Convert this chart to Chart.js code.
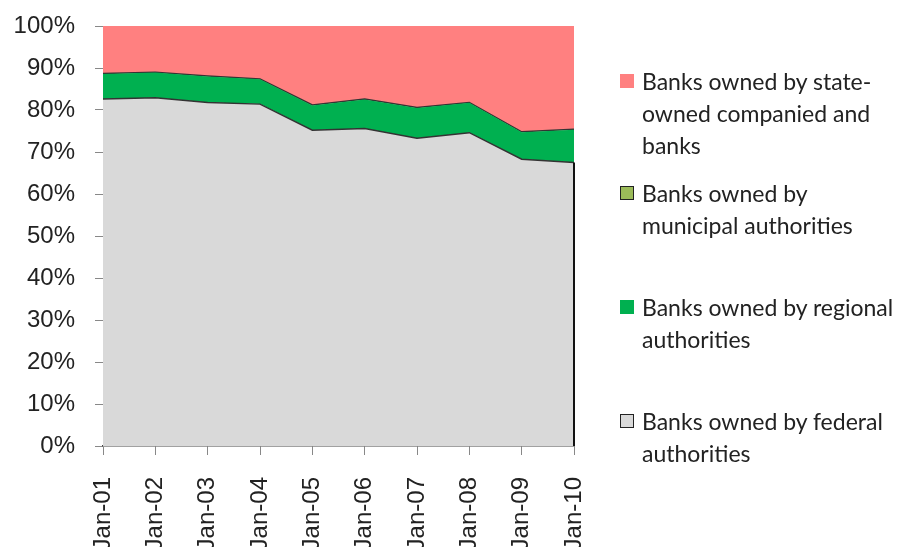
<!DOCTYPE html>
<html>
<head>
<meta charset="utf-8">
<script src="https://cdn.jsdelivr.net/npm/chart.js@4.4.1/dist/chart.umd.min.js"></script>
<style>
    html, body { margin: 0; padding: 0; background: #fff; }
    #wrap { position: relative; width: 913px; height: 547px; overflow: hidden; }
    #chart { position: absolute; left: 0; top: 0; }
    #legend { position: absolute; left: 620px; top: 0; font-family: "Lato", "Open Sans", sans-serif; font-size: 23px; color: #222; }
    .item { position: absolute; left: 0; white-space: nowrap; line-height: 32px; }
    .box { position: absolute; left: 0; top: 9px; width: 14px; height: 14px; box-sizing: border-box; }
    .txt { position: absolute; left: 22px; top: 0; }
</style>
</head>
<body>
<div id="wrap">
    <canvas id="chart" width="913" height="547"></canvas>
    <div id="legend"></div>
</div>
<script>
const labels = ['Jan-01', 'Jan-02', 'Jan-03', 'Jan-04', 'Jan-05', 'Jan-06', 'Jan-07', 'Jan-08', 'Jan-09', 'Jan-10'];
const yTicks = [0, 10, 20, 30, 40, 50, 60, 70, 80, 90, 100];

// shares in %, stacked bottom to top
const federal   = [82.6, 82.9, 81.8, 81.4, 75.2, 75.6, 73.3, 74.6, 68.3, 67.5];
const regional  = [6.0, 6.0, 6.2, 5.9, 5.9, 6.9, 7.2, 7.1, 6.4, 7.8];
const municipal = [0.1, 0.1, 0.1, 0.1, 0.1, 0.1, 0.1, 0.1, 0.1, 0.1];
const stateOwned = [11.3, 11.0, 11.9, 12.6, 18.8, 17.4, 19.4, 18.2, 25.2, 24.6];

const names = {
    state: ['Banks owned by state-', 'owned companied and', 'banks'],
    municipal: ['Banks owned by', 'municipal authorities'],
    regional: ['Banks owned by regional', 'authorities'],
    federal: ['Banks owned by federal', 'authorities']
};

const colors = { state: '#ff8080', municipal: '#9bbb59', regional: '#00b050', federal: '#d9d9d9' };

// legend, top to bottom
const legendItems = [
    { key: 'state', top: 65, border: false },
    { key: 'municipal', top: 177, border: true },
    { key: 'regional', top: 291, border: false },
    { key: 'federal', top: 405, border: true }
];

const legendEl = document.getElementById('legend');
legendItems.forEach(it => {
    const el = document.createElement('div');
    el.className = 'item';
    el.style.top = it.top + 'px';
    const box = document.createElement('div');
    box.className = 'box';
    box.style.background = colors[it.key];
    if (it.border) box.style.border = '1.5px solid #222';
    const txt = document.createElement('div');
    txt.className = 'txt';
    txt.innerHTML = names[it.key].join('<br>');
    el.appendChild(box);
    el.appendChild(txt);
    legendEl.appendChild(el);
});

// dark edge on the right side of the federal area, like the original
const edgePlugin = {
    id: 'edge',
    afterDatasetsDraw(chart) {
        const meta = chart.getDatasetMeta(0);
        const last = meta.data[meta.data.length - 1];
        const y0 = chart.scales.y.getPixelForValue(0);
        const ctx = chart.ctx;
        ctx.save();
        ctx.strokeStyle = '#111';
        ctx.lineWidth = 2;
        ctx.beginPath();
        ctx.moveTo(last.x, last.y);
        ctx.lineTo(last.x, y0);
        ctx.stroke();
        ctx.restore();
    }
};

const tickFont = { family: '"Liberation Sans", Arial, sans-serif', size: 24 };

new Chart(document.getElementById('chart'), {
    type: 'line',
    data: {
        labels,
        datasets: [
            { data: federal, backgroundColor: colors.federal, borderColor: '#333', borderWidth: 1.5, fill: 'origin' },
            { data: regional, backgroundColor: colors.regional, borderColor: colors.regional, borderWidth: 0, fill: '-1' },
            { data: municipal, backgroundColor: colors.municipal, borderColor: '#333', borderWidth: 1.5, fill: '-1' },
            { data: stateOwned, backgroundColor: colors.state, borderColor: colors.state, borderWidth: 0, fill: '-1' }
        ]
    },
    options: {
        responsive: false,
        animation: false,
        elements: { point: { radius: 0 }, line: { tension: 0 } },
        layout: { padding: { top: 26, right: 339, left: 0, bottom: 0 } },
        plugins: { legend: { display: false }, tooltip: { enabled: false } },
        scales: {
            x: {
                offset: false,
                grid: { drawOnChartArea: false, tickLength: 9, color: '#888' },
                border: { color: '#444', width: 1.5 },
                ticks: { font: tickFont, color: '#222', minRotation: 90, maxRotation: 90, padding: 22, autoSkip: false },
                afterFit: s => { s.height = 101; s.paddingLeft = 0; s.paddingRight = 0; }
            },
            y: {
                stacked: true,
                min: 0,
                max: 100,
                afterBuildTicks: s => { s.ticks = yTicks.map(v => ({ value: v })); },
                grid: { drawOnChartArea: false, tickLength: 8, color: '#888' },
                border: { color: '#999' },
                ticks: { font: tickFont, color: '#222', padding: 20, callback: v => v + '%' },
                afterFit: s => { s.width = 103; s.paddingTop = 0; s.paddingBottom = 0; }
            }
        }
    },
    plugins: [edgePlugin]
});
</script>
</body>
</html>
